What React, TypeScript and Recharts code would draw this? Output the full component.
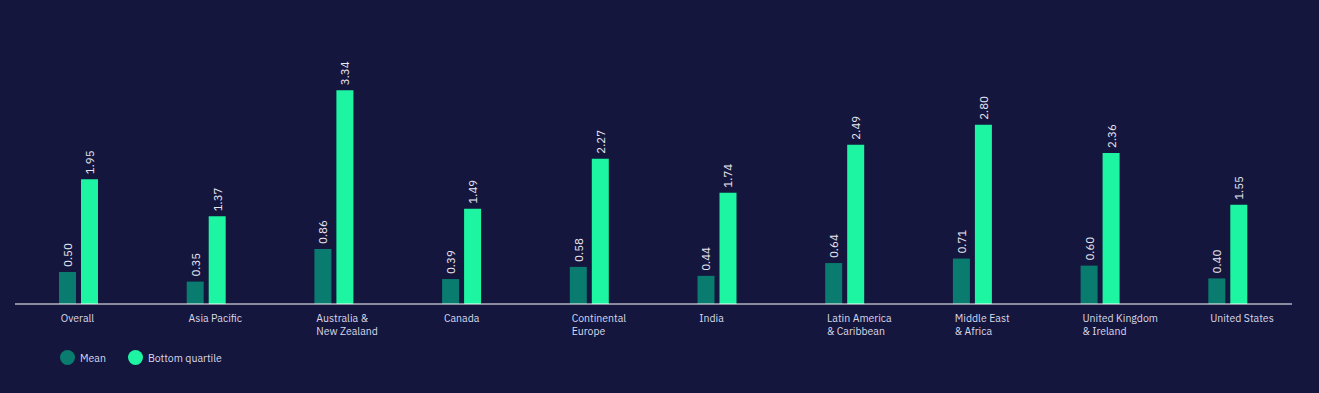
import { BarChart, Bar, XAxis, YAxis, LabelList } from 'recharts';

const regions = [
  'Overall',
  'Asia Pacific',
  'Australia &\nNew Zealand',
  'Canada',
  'Continental\nEurope',
  'India',
  'Latin America\n& Caribbean',
  'Middle East\n& Africa',
  'United Kingdom\n& Ireland',
  'United States',
];
const meanValues = [0.5, 0.35, 0.86, 0.39, 0.58, 0.44, 0.64, 0.71, 0.6, 0.4];
const bottomQuartileValues = [1.95, 1.37, 3.34, 1.49, 2.27, 1.74, 2.49, 2.8, 2.36, 1.55];

const data = regions.map((name, i) => ({
  name,
  mean: meanValues[i],
  bottom: bottomQuartileValues[i],
}));

const BG = '#15163d';
const MEAN = '#0a7b6f';
const BOTTOM = '#1ef5a2';
const FONT = '"IBM Plex Sans", "Noto Sans", Inter, sans-serif';

function RegionTick(props: any) {
  const { x, y, payload } = props;
  const lines = String(payload.value).split('\n');
  return (
    <text x={x - 18} y={y + 18} fill="#d9d9ea" fontSize={10.5} fontFamily={FONT} textAnchor="start">
      {lines.map((l, i) => (
        <tspan key={i} x={x - 18} dy={i === 0 ? 0 : 13}>{l}</tspan>
      ))}
    </text>
  );
}

function ValueLabel(props: any) {
  const { x, y, width, value } = props;
  const cx = x + width / 2;
  const ty = y - 5;
  return (
    <text
      x={cx}
      y={ty}
      transform={`rotate(-90, ${cx}, ${ty})`}
      fill="#e8e8f2"
      fontSize={11.5}
      fontFamily={FONT}
      textAnchor="start"
      dominantBaseline="central"
    >
      {Number(value).toFixed(2)}
    </text>
  );
}

export default function App() {
  return (
    <div style={{ position: 'fixed', left: 0, top: 0, width: 1319, height: 393, background: BG, fontFamily: FONT }}>
      <BarChart
        width={1319}
        height={393}
        data={data}
        margin={{ top: 48, right: 27, left: 15, bottom: 29 }}
        barSize={17}
        barGap={5}
      >
        <XAxis
          dataKey="name"
          interval={0}
          height={60}
          tickLine={false}
          tickSize={0}
          tickMargin={0}
          axisLine={{ stroke: '#ffffff', strokeWidth: 1 }}
          tick={<RegionTick />}
        />
        <YAxis hide domain={[0, 4]} />
        <Bar dataKey="mean" fill={MEAN} isAnimationActive={false}>
          <LabelList dataKey="mean" content={<ValueLabel />} />
        </Bar>
        <Bar dataKey="bottom" fill={BOTTOM} isAnimationActive={false}>
          <LabelList dataKey="bottom" content={<ValueLabel />} />
        </Bar>
      </BarChart>
      <div style={{ position: 'absolute', left: 60, top: 350, display: 'flex', alignItems: 'center', fontSize: 10.5, color: '#d9d9ea' }}>
        <span style={{ width: 15, height: 15, borderRadius: '50%', background: MEAN, display: 'inline-block' }} />
        <span style={{ marginLeft: 5 }}>Mean</span>
        <span style={{ width: 15, height: 15, borderRadius: '50%', background: BOTTOM, display: 'inline-block', marginLeft: 22 }} />
        <span style={{ marginLeft: 5 }}>Bottom quartile</span>
      </div>
    </div>
  );
}
